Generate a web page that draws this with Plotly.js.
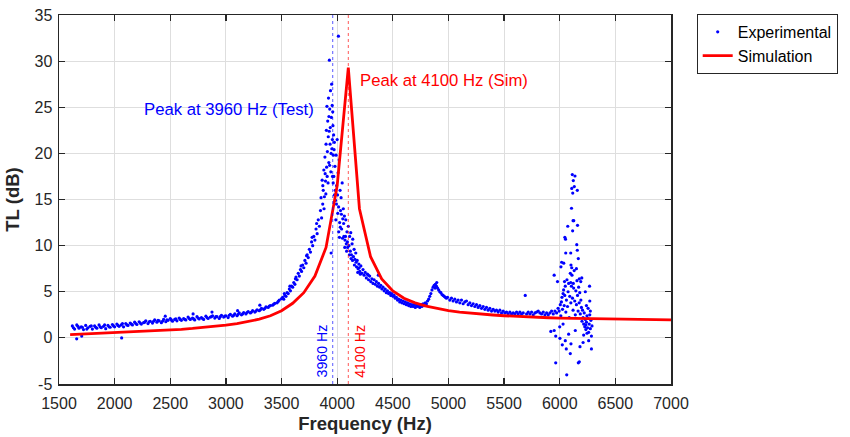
<!DOCTYPE html>
<html>
<head>
<meta charset="utf-8">
<script src="https://cdn.plot.ly/plotly-3.0.1.min.js"></script>
<style>html,body{margin:0;padding:0;background:#fff;}#chart{width:850px;height:437px;}</style>
</head>
<body>
<div id="chart"></div>
<script>
// ---- Simulation curve ----
const simFreq = [1600,1700,1800,1900,2000,2100,2200,2300,2400,2500,2600,2700,2800,2900,3000,3100,3200,3300,3400,3500,3600,3700,3800,3900,4000,4100,4200,4300,4400,4500,4600,4700,4800,4900,5000,5100,5200,5300,5400,5500,5600,5700,5800,5900,6000,6200,6400,6600,6800,7000];
const simTL   = [0.35,0.4,0.45,0.5,0.55,0.6,0.66,0.72,0.78,0.85,0.93,1.02,1.12,1.24,1.38,1.55,1.76,2.03,2.4,2.95,3.75,4.9,6.7,9.8,16.5,29.3,14.0,8.8,6.4,5.1,4.3,3.8,3.45,3.2,2.95,2.8,2.67,2.57,2.48,2.4,2.33,2.27,2.22,2.18,2.14,2.09,2.05,2.02,1.99,1.96];

const lowFreq = [1620,1640,1660,1680,1700,1720,1740,1760,1780,1800,1820,1840,1860,1880,1900,1920,1940,1960,1980,2000,2020,2040,2060,2080,2100,2120,2140,2160,2180,2200,2220,2240,2260,2280,2300,2320,2340,2360,2380,2400,2420,2440,2460,2480,2500,2520,2540,2560,2580,2600,2620,2640,2660,2680,2700,2720,2740,2760,2780,2800,2820,2840,2860,2880,2900,2920,2940,2960,2980,3000,3020,3040,3060,3080,3100,3120,3140,3160,3180,3200,3220,3240,3260,3280,3300,3320,3340,3360,3380,3400,3420,3440,3460,3480,3500,
  1630,1670,1710,1750,1790,1830,1870,1910,1950,1990,2030,2070,2110,2150,2190,2230,2270,2310,2350,2390,2430,2470,2510,2550,2590,2630,2670,2710,2750,2790,2830,2870,2910,2950,2990,3030,3070,3110,3150,3190,3230,3270,3310,3350,3390,3430,3470,
  1659,1704,2063,2875,3105,3305,2455,2705];
const lowTL = [1.3,0.95,1.4,1.05,1.2,0.9,1.35,1.1,1.25,0.95,1.3,1.05,1.4,1.1,1.25,1.0,1.35,1.15,1.45,1.2,1.5,1.25,1.4,1.2,1.55,1.35,1.6,1.4,1.7,1.45,1.75,1.5,1.65,1.85,1.55,1.8,1.6,1.95,1.7,1.85,1.65,2.0,1.75,1.9,2.1,1.8,2.0,1.85,2.15,1.9,2.1,1.95,2.25,2.0,2.15,1.95,2.3,2.05,2.2,2.0,2.35,2.1,2.25,2.4,2.15,2.3,2.1,2.45,2.25,2.4,2.2,2.55,2.35,2.6,2.4,2.7,2.5,2.75,2.6,2.85,2.7,2.95,2.8,3.05,2.95,3.2,3.1,3.35,3.3,3.5,3.55,3.75,3.8,4.1,4.25,
  1.1,1.25,1.15,0.95,1.3,1.15,1.2,1.4,1.2,1.3,1.35,1.55,1.4,1.5,1.55,1.6,1.7,1.75,1.8,1.9,1.8,1.95,1.95,2.05,2.0,2.0,2.1,2.05,2.15,2.1,2.2,2.3,2.3,2.3,2.35,2.45,2.45,2.55,2.6,2.75,2.8,2.9,3.05,3.2,3.45,3.65,3.95,
  -0.1,0.2,0.0,2.8,2.95,3.55,2.35,2.6];

const riseFreq = [3510,3520,3530,3540,3550,3560,3570,3580,3590,3600,3610,3620,3630,3640,3650,3660,3670,3680,3690,3700,3710,3720,3730,3740,3750,3760,3770,3780,3790,3800,3810,3820,3830,3840,3850,3525,3575,3625,3675,3725,3775,3815];
const riseTL   = [4.4,4.2,4.6,4.5,4.9,4.8,5.3,5.1,5.6,5.5,6.0,5.8,6.6,6.3,7.0,6.7,7.4,7.2,7.9,7.6,8.4,8.1,9.0,8.7,9.6,9.3,10.4,10.0,11.0,10.6,11.8,11.3,12.8,12.1,13.8,4.8,5.6,6.4,7.8,8.9,10.9,12.4];

const peakFreq = [3855,3860,3865,3870,3875,3880,3885,3890,3895,3900,3905,3908,3912,3915,3918,3922,3925,3928,3930,3933,3936,3940,3943,3946,3948,3952,3955,3958,3962,3965,3968,3972,3976,3980,3985,3990,3995,4000,4005,4008,4011,4014,4018,4022,4026,4030,4035,4040,4045,4050,4055,4060,4065,4070,4077,4082,4088,4094,4100,4106,4112,4118,4122,4128,4134,4140,4146,4152,4160,4167,4174,4180,4188,4195,4203,4213,
  3871,3882,3892,3898,3903,3910,3920,3926,3932,3938,3945,3950,3957,3960,3964,3970,3975,3983,3988,3993,4003,4013,4020,4028,4038,4048,4058,4068,4075,4085,4092,4110,4125,4138,4155,4170,4185,4198,4208];
const peakTL   = [15.2,13.0,17.1,14.5,16.0,18.2,15.3,19.6,17.0,21.0,18.5,25.1,20.2,23.5,16.8,26.0,19.0,22.4,30.1,24.8,21.0,26.8,18.0,9.2,23.9,20.5,25.2,17.5,23.0,19.8,22.0,20.4,15.5,18.6,14.9,19.8,16.5,21.5,13.5,17.9,32.7,11.5,19.3,12.5,16.0,13.8,15.2,11.8,16.8,12.9,14.0,11.0,13.2,10.6,12.8,10.2,11.5,9.8,12.1,10.0,11.0,9.4,11.4,9.0,10.2,10.7,8.8,9.6,8.5,9.2,7.7,8.4,7.5,8.0,7.2,7.8,
  16.5,14.0,17.8,15.6,22.5,17.5,21.8,24.0,18.7,22.8,20.0,27.5,21.5,24.5,16.8,17.5,21.2,16.0,12.8,14.5,15.5,14.2,10.9,12.0,13.4,10.8,12.4,9.8,11.0,9.4,10.4,9.0,8.6,8.4,7.9,8.2,7.1,7.6,6.9];

const fallFreq = [4222,4232,4242,4252,4262,4272,4282,4292,4302,4312,4322,4332,4342,4352,4362,4372,4382,4392,4402,4412,4422,4432,4442,4452,4462,4472,4482,4492,4502,4512,4522,4532,4542,4552,4562,4572,4582,4592,4602,4612,4622,4632,4642,4652,4662,4672,4682,4692,4702,4712,4722,4732,4742,4752,4762,4772,4782,4792,4802,4812,4822,4832,4842,4852,4862,4872,4882,4892,4902,4912,4922,4932,4942,4952,4962,4972,4982,4992,4280,4370,4880,4895];
const fallTL   = [7.0,7.4,6.8,7.1,6.5,6.9,6.3,6.7,6.1,6.4,5.9,6.3,5.8,6.1,5.6,5.9,5.5,5.7,5.3,5.5,5.1,5.3,4.9,5.1,4.8,4.9,4.6,4.8,4.5,4.6,4.3,4.4,4.1,4.2,3.9,4.1,3.8,4.0,3.7,3.9,3.6,3.8,3.5,3.7,3.4,3.6,3.4,3.6,3.3,3.6,3.4,3.5,3.3,3.6,3.4,3.7,3.5,3.8,3.7,4.0,4.2,4.5,4.8,5.2,5.5,5.7,5.8,5.6,5.4,5.2,5.0,4.9,4.7,4.6,4.5,4.4,4.3,4.4,6.8,6.8,5.4,6.0];

const tailFreq = [5012,5027,5042,5057,5072,5087,5102,5117,5132,5147,5162,5177,5192,5207,5222,5237,5252,5267,5282,5297,5312,5327,5342,5357,5372,5387,5402,5417,5432,5447,5462,5477,5492,5507,5522,5537,5552,5567,5582,5597,5612,5627,5642,5657,5672,5690,5702,5717,5732,5747,5762,5777,5792,5807,5822,5837,5852,5867,5882,5897,5912,5927,5942,5957,5972];
const tailTL   = [4.1,4.3,4.0,4.2,3.9,4.1,3.8,4.1,3.7,3.9,4.0,3.6,3.8,3.5,3.7,3.4,3.6,3.3,3.5,3.2,3.4,3.1,3.3,3.0,3.2,2.9,3.1,2.9,3.0,2.8,3.0,2.7,2.9,2.7,2.8,2.6,2.8,2.6,2.7,2.6,2.8,2.6,2.8,2.6,2.7,4.6,2.6,2.8,2.6,2.8,2.5,2.7,2.8,2.9,2.7,2.6,2.8,2.5,2.7,2.5,2.7,2.9,2.6,2.9,2.7];

const spikeFreq = [5985,5995,6005,6010,6015,6020,6025,6030,6035,6040,6045,6050,6055,6060,6065,6070,6075,6080,6085,6090,6095,6100,6105,6110,6115,6120,6125,6130,6135,6140,6145,6150,6155,6160,6165,6170,6175,6180,6185,6190,6195,6200,6205,6210,6215,6220,6225,6230,6235,6240,6245,6250,6255,6260,6265,6270,6275,6280,6285,6290,
  6113,6137,6122,6131,6108,6158,6117,6106,6120,6126,6116,6072,6160,6046,6052,6153,6158,6054,6099,6167,6017,6036,6011,6101,6108,6150,5950,5980,6176,6198,6189,6268,6043,6099,6122,
  5920,5950,5964,6002,6023,6059,6101,6095,6182,6167,6176,5964,6063,6030,6080,6140,6210,6260,6285,6240,6270,6230,6000,6050,6215,6245,6275,6255,6235];
const spikeTL   = [3.2,2.9,3.6,2.4,3.9,4.4,3.1,4.8,5.2,3.5,4.6,5.6,2.8,4.1,6.3,3.4,5.0,5.9,2.2,4.5,7.0,3.8,5.6,6.8,4.3,3.0,5.4,7.3,4.0,2.5,5.1,3.6,6.2,4.6,2.9,5.5,3.8,4.9,2.6,4.1,3.3,1.8,3.0,2.2,1.5,2.7,1.2,2.0,0.9,1.7,2.4,1.1,2.1,0.6,1.5,2.5,1.0,1.9,0.2,1.3,
  17.7,17.55,17.05,16.4,16.2,16.0,15.7,14.05,12.7,12.7,11.6,12.1,12.2,10.9,10.7,10.1,9.5,9.2,9.2,8.6,8.2,8.1,7.7,7.9,7.6,7.5,6.8,6.1,6.4,6.5,6.1,5.6,6.1,6.0,5.9,
  0.7,0.8,0.2,-0.05,-0.75,-1.2,-0.65,-1.7,-0.95,-2.7,-2.6,-2.7,-4.0,1.5,0.4,0.8,-0.5,-0.3,-1.2,3.5,4.0,5.0,1.2,-0.3,0.3,0.5,2.9,3.2,1.4];

// ---- Peak markers ----
const peakLabels = ['3960 Hz','4100 Hz'];
const peakFreqs  = [3960, 4100];
const peakNotes  = ['Peak at 3960 Hz (Test)','Peak at 4100 Hz (Sim)'];
const xTicks = [1500,2000,2500,3000,3500,4000,4500,5000,5500,6000,6500,7000];
const yTicks = [-5,0,5,10,15,20,25,30,35];

const expFreq = [].concat(lowFreq, riseFreq, peakFreq, fallFreq, tailFreq, spikeFreq);
const expTL   = [].concat(lowTL, riseTL, peakTL, fallTL, tailTL, spikeTL);

const FONT = '"Liberation Sans", Arial, sans-serif';
const AX = '#262626';

const traces = [
  {x: expFreq, y: expTL, type: 'scatter', mode: 'markers', name: 'Experimental',
   marker: {color: '#0000ff', size: 3.2}},
  {x: simFreq, y: simTL, type: 'scatter', mode: 'lines', name: 'Simulation',
   line: {color: '#ff0000', width: 2.8}}
];

const axisCommon = {
  ticks: 'inside', ticklen: 6, tickwidth: 1.2, tickcolor: AX,
  showline: true, linecolor: AX, linewidth: 1.5, mirror: 'ticks',
  showgrid: true, gridcolor: '#dedede', gridwidth: 1, zeroline: false,
  tickfont: {family: FONT, size: 16, color: AX}
};

const layout = {
  width: 850, height: 437,
  margin: {l: 59, r: 179, t: 15, b: 53},
  paper_bgcolor: '#ffffff', plot_bgcolor: '#ffffff',
  font: {family: FONT, color: AX},
  showlegend: true,
  xaxis: Object.assign({}, axisCommon, {
    range: [1500, 7000], tickmode: 'array', tickvals: xTicks, ticktext: xTicks.map(String),
    ticklabelstandoff: 4,
    title: {text: '<b>Frequency (Hz)</b>', font: {family: FONT, size: 18.5, color: AX}, standoff: 6}
  }),
  yaxis: Object.assign({}, axisCommon, {
    range: [-5, 35], tickmode: 'array', tickvals: yTicks, ticktext: yTicks.map(String),
    ticklabelstandoff: 2,
    title: {text: '<b>TL (dB)</b>', font: {family: FONT, size: 18.5, color: AX}, standoff: 10}
  }),
  legend: {x: 1.042, y: 1.003, xanchor: 'left', yanchor: 'top',
    bordercolor: AX, borderwidth: 1, bgcolor: '#ffffff',
    font: {family: FONT, size: 16, color: '#000000'}, itemwidth: 30, tracegroupgap: 0},
  shapes: [
    {type: 'line', xref: 'x', yref: 'paper', x0: peakFreqs[0], x1: peakFreqs[0], y0: 0, y1: 1,
     line: {color: '#0000ff', width: 1, dash: 'dot'}, opacity: 0.65, layer: 'above'},
    {type: 'line', xref: 'x', yref: 'paper', x0: peakFreqs[1], x1: peakFreqs[1], y0: 0, y1: 1,
     line: {color: '#ff0000', width: 1, dash: 'dot'}, opacity: 0.65, layer: 'above'}
  ],
  annotations: [
    {x: 2243, y: 24.8, xref: 'x', yref: 'y', text: peakNotes[0], showarrow: false,
     xanchor: 'left', yanchor: 'middle', font: {family: FONT, size: 16.7, color: '#0000ff'}},
    {x: 4190, y: 27.95, xref: 'x', yref: 'y', text: peakNotes[1], showarrow: false,
     xanchor: 'left', yanchor: 'middle', font: {family: FONT, size: 16.7, color: '#ff0000'}},
    {x: 3861, y: -1.4, xref: 'x', yref: 'y', text: peakLabels[0], showarrow: false, textangle: -90,
     xanchor: 'center', yanchor: 'middle', font: {family: FONT, size: 14.2, color: '#0000ff'}},
    {x: 4205, y: -1.4, xref: 'x', yref: 'y', text: peakLabels[1], showarrow: false, textangle: -90,
     xanchor: 'center', yanchor: 'middle', font: {family: FONT, size: 14.2, color: '#ff0000'}}
  ]
};

Plotly.newPlot('chart', traces, layout, {displayModeBar: false, staticPlot: true});
</script>
</body>
</html>
